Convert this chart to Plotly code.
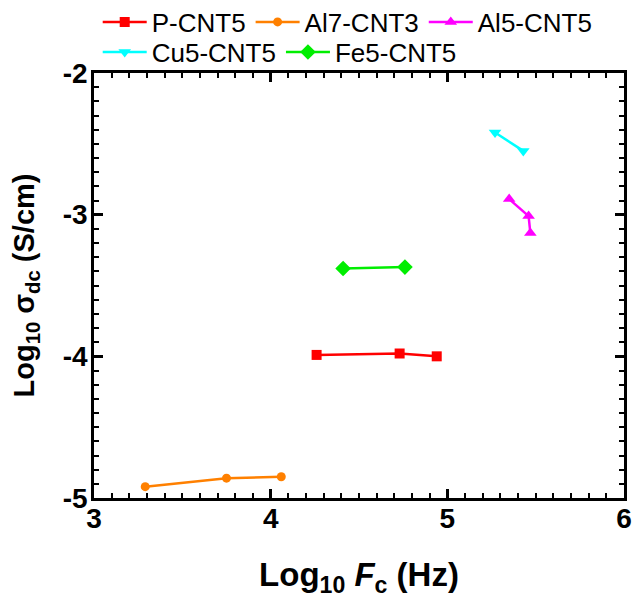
import plotly.graph_objects as go

# Data (Log10 Fc in Hz, Log10 sigma_dc in S/cm)
p_cnt5_x = [4.26, 4.73, 4.94]
p_cnt5_y = [-3.99, -3.98, -4.00]
al7_cnt3_x = [3.29, 3.75, 4.06]
al7_cnt3_y = [-4.92, -4.86, -4.85]
al5_cnt5_x = [5.35, 5.46, 5.47]
al5_cnt5_y = [-2.89, -3.01, -3.13]
cu5_cnt5_x = [5.27, 5.43]
cu5_cnt5_y = [-2.42, -2.55]
fe5_cnt5_x = [4.41, 4.76]
fe5_cnt5_y = [-3.38, -3.37]

x_range = [3, 6]
y_range = [-5, -2]
x_ticks = [3, 4, 5, 6]
y_ticks = [-5, -4, -3, -2]
x_tick_labels = ["3", "4", "5", "6"]
y_tick_labels = ["-5", "-4", "-3", "-2"]

series = [
    ("P-CNT5", p_cnt5_x, p_cnt5_y, "#FF0000", "square", 10, "legend"),
    ("Al7-CNT3", al7_cnt3_x, al7_cnt3_y, "#FF8000", "circle", 9, "legend"),
    ("Al5-CNT5", al5_cnt5_x, al5_cnt5_y, "#FF00FF", "triangle-up", 11, "legend"),
    ("Cu5-CNT5", cu5_cnt5_x, cu5_cnt5_y, "#00FFFF", "triangle-down", 11, "legend2"),
    ("Fe5-CNT5", fe5_cnt5_x, fe5_cnt5_y, "#00EE00", "diamond", 12, "legend2"),
]

fig = go.Figure()
for name, xs, ys, color, sym, size, leg in series:
    fig.add_trace(go.Scatter(
        x=xs, y=ys, name=name, mode="lines+markers",
        line=dict(color=color, width=2.5),
        marker=dict(symbol=sym, size=size, color=color),
        legend=leg,
    ))

fam = "Liberation Sans, Arial"
tick_font = dict(family=fam, size=28, color="black", weight="bold")

axis_common = dict(
    showline=True, linecolor="black", linewidth=2.5, mirror="allticks",
    ticks="inside", ticklen=9, tickwidth=2.5, tickcolor="black",
    showgrid=False, zeroline=False, tickfont=tick_font, automargin=False,
    tickmode="array", ticklabeloverflow="allow",
)

minor_common = dict(ticks="inside", ticklen=5, tickwidth=2, tickcolor="black",
                    showgrid=False, dtick=0.1)

fig.update_layout(
    xaxis=dict(range=x_range, tickvals=x_ticks, ticktext=x_tick_labels, ticklabelstandoff=-6,
               minor=dict(tick0=3, **minor_common),
               title=dict(text="Log<sub>10</sub> <i>F</i><sub>c</sub> (Hz)",
                          font=dict(family=fam, size=33, color="black", weight="bold"), standoff=30),
               **axis_common),
    yaxis=dict(range=y_range, tickvals=y_ticks, ticktext=y_tick_labels, ticklabelstandoff=-2,
               minor=dict(tick0=-5, **minor_common),
               title=dict(text="Log<sub>10</sub> σ<sub>dc</sub> (S/cm)",
                          font=dict(family=fam, size=29, color="black", weight="bold"), standoff=20),
               **axis_common),
)

legend_font = dict(family=fam, size=26, color="black")
fig.update_layout(
    width=632, height=600,
    margin=dict(l=94, r=8, t=73, b=102, autoexpand=False),
    plot_bgcolor="white", paper_bgcolor="white",
    legend=dict(orientation="h", x=0.007, y=1.12, xanchor="left", yanchor="middle",
                font=legend_font, bgcolor="rgba(0,0,0,0)", itemwidth=44),
    legend2=dict(orientation="h", x=0.007, y=1.049, xanchor="left", yanchor="middle",
                 font=legend_font, bgcolor="rgba(0,0,0,0)", itemwidth=44),
)

fig.write_html("out.html", config={"displayModeBar": False},
               post_script="document.body.style.margin='0';")
